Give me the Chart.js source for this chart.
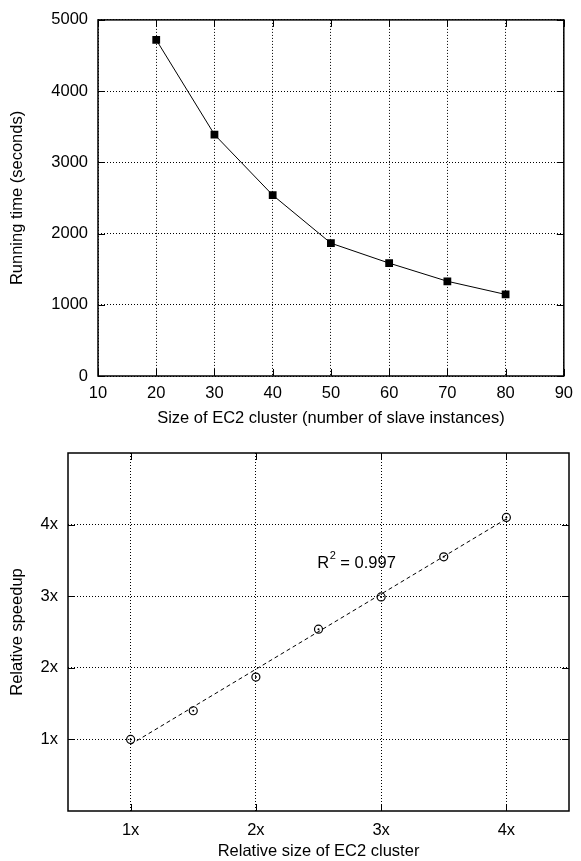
<!DOCTYPE html>
<html>
<head>
<meta charset="utf-8">
<script src="https://cdn.jsdelivr.net/npm/chart.js@4.4.0/dist/chart.umd.min.js"></script>
<style>
  body { margin: 0; background: #fff; }
  canvas { display: block; }
</style>
</head>
<body>
<canvas id="timeChart" width="581" height="430"></canvas>
<canvas id="speedupChart" width="581" height="431"></canvas>
<script>
// top panel: running time vs cluster size
const clusterSizes = [20, 30, 40, 50, 60, 70, 80];
const runningTimes = [4720, 3390, 2540, 1865, 1585, 1330, 1145];
const sizeTicks = [10, 20, 30, 40, 50, 60, 70, 80, 90];
const timeTicks = [0, 1000, 2000, 3000, 4000, 5000];

// bottom panel: relative speedup
const relativeSizes = [1, 1.5, 2, 2.5, 3, 3.5, 4];
const relativeSpeedups = [1.0, 1.40, 1.87, 2.54, 2.99, 3.55, 4.10];
const fitX = [1, 4];
const fitY = [0.93, 4.08];
const relTicks = [1, 2, 3, 4];
const relTickLabels = ['1x', '2x', '3x', '4x'];
const rSquared = '0.997';

const FONT = '"Liberation Sans", Arial, sans-serif';
const fontSize = 16.5;
Chart.defaults.font.family = FONT;
Chart.defaults.font.size = fontSize;
Chart.defaults.color = '#000';

const toPoints = (xs, ys) => xs.map((v, i) => ({ x: v, y: ys[i] }));

// box around the plot + inward tick marks on all four sides
const frame = {
  id: 'frame',
  afterDraw(chart) {
    const { ctx, chartArea: a, scales: { x, y } } = chart;
    const len = 7;
    ctx.save();
    ctx.strokeStyle = '#000';
    ctx.lineWidth = 1;
    ctx.beginPath();
    x.ticks.forEach(t => {
      const px = Math.round(x.getPixelForValue(t.value)) + 0.5;
      ctx.moveTo(px, a.bottom); ctx.lineTo(px, a.bottom - len);
      ctx.moveTo(px, a.top); ctx.lineTo(px, a.top + len);
    });
    y.ticks.forEach(t => {
      const py = Math.round(y.getPixelForValue(t.value)) + 0.5;
      ctx.moveTo(a.left, py); ctx.lineTo(a.left + len, py);
      ctx.moveTo(a.right, py); ctx.lineTo(a.right - len, py);
    });
    ctx.stroke();
    ctx.lineWidth = 1.5;
    ctx.strokeRect(a.left, a.top, a.right - a.left, a.bottom - a.top);
    ctx.restore();
  }
};

// R^2 note next to the fit line
const rLabel = {
  id: 'rLabel',
  afterDatasetsDraw(chart) {
    const { ctx, scales: { x, y } } = chart;
    const px = x.getPixelForValue(2.49);
    const py = y.getPixelForValue(3.39);
    ctx.save();
    ctx.fillStyle = '#000';
    ctx.textBaseline = 'alphabetic';
    ctx.font = fontSize + 'px ' + FONT;
    ctx.fillText('R', px, py);
    let w = ctx.measureText('R').width + 0.5;
    ctx.font = '11px ' + FONT;
    ctx.fillText('2', px + w, py - 9);
    w += ctx.measureText('2').width;
    ctx.font = fontSize + 'px ' + FONT;
    ctx.fillText(' = ' + rSquared, px + w, py);
    ctx.restore();
  }
};

const gridOpts = { color: '#000', lineWidth: 1, drawTicks: false };
const borderOpts = { display: false, dash: [1, 2] };

function axis(tickValues, extra) {
  return Object.assign({
    type: 'linear',
    grid: gridOpts,
    border: borderOpts,
    afterBuildTicks: s => { s.ticks = tickValues.map(v => ({ value: v })); }
  }, extra);
}

new Chart(document.getElementById('timeChart'), {
  type: 'scatter',
  data: {
    datasets: [{
      data: toPoints(clusterSizes, runningTimes),
      showLine: true,
      borderColor: '#000',
      borderWidth: 1,
      pointStyle: 'rect',
      pointRadius: 5.5,
      pointBackgroundColor: '#000',
      pointBorderWidth: 0
    }]
  },
  options: {
    responsive: false,
    animation: false,
    events: [],
    layout: { padding: { top: 18, right: 12, left: 0, bottom: 0 } },
    plugins: { legend: { display: false }, tooltip: { enabled: false } },
    scales: {
      x: axis(sizeTicks, {
        min: 10, max: 90,
        ticks: { padding: 8, maxRotation: 0, callback: v => String(v) },
        title: { display: true, text: 'Size of EC2 cluster (number of slave instances)', padding: { top: 0, bottom: 2 } },
        afterFit: s => { s.height = 54; }
      }),
      y: axis(timeTicks, {
        min: 0, max: 5000,
        ticks: { padding: 10, callback: v => String(v) },
        title: { display: true, text: 'Running time (seconds)', padding: { top: 8, bottom: 0 } },
        afterFit: s => { s.width = 98; }
      })
    }
  },
  plugins: [frame]
});

new Chart(document.getElementById('speedupChart'), {
  type: 'scatter',
  data: {
    datasets: [
      {
        data: toPoints(fitX, fitY),
        showLine: true,
        borderColor: '#000',
        borderWidth: 1,
        borderDash: [4, 3],
        pointRadius: 0
      },
      {
        data: toPoints(relativeSizes, relativeSpeedups),
        pointStyle: 'circle',
        pointRadius: 4,
        pointBorderColor: '#000',
        pointBorderWidth: 1.2,
        pointBackgroundColor: 'rgba(0,0,0,0)'
      },
      {
        data: toPoints(relativeSizes, relativeSpeedups),
        pointStyle: 'circle',
        pointRadius: 1,
        pointBorderWidth: 0,
        pointBackgroundColor: '#000'
      }
    ]
  },
  options: {
    responsive: false,
    animation: false,
    events: [],
    layout: { padding: { top: 23, right: 12, left: 0, bottom: 0 } },
    plugins: { legend: { display: false }, tooltip: { enabled: false } },
    scales: {
      x: axis(relTicks, {
        min: 0.5, max: 4.5,
        ticks: { padding: 10, maxRotation: 0, callback: v => relTickLabels[relTicks.indexOf(v)] },
        title: { display: true, text: 'Relative size of EC2 cluster', padding: { top: 0, bottom: 0 } },
        afterFit: s => { s.height = 50; }
      }),
      y: axis(relTicks, {
        min: 0, max: 5,
        ticks: { padding: 10, callback: v => relTickLabels[relTicks.indexOf(v)] },
        title: { display: true, text: 'Relative speedup', padding: { top: 8, bottom: 0 } },
        afterFit: s => { s.width = 68; }
      })
    }
  },
  plugins: [frame, rLabel]
});
</script>
</body>
</html>
